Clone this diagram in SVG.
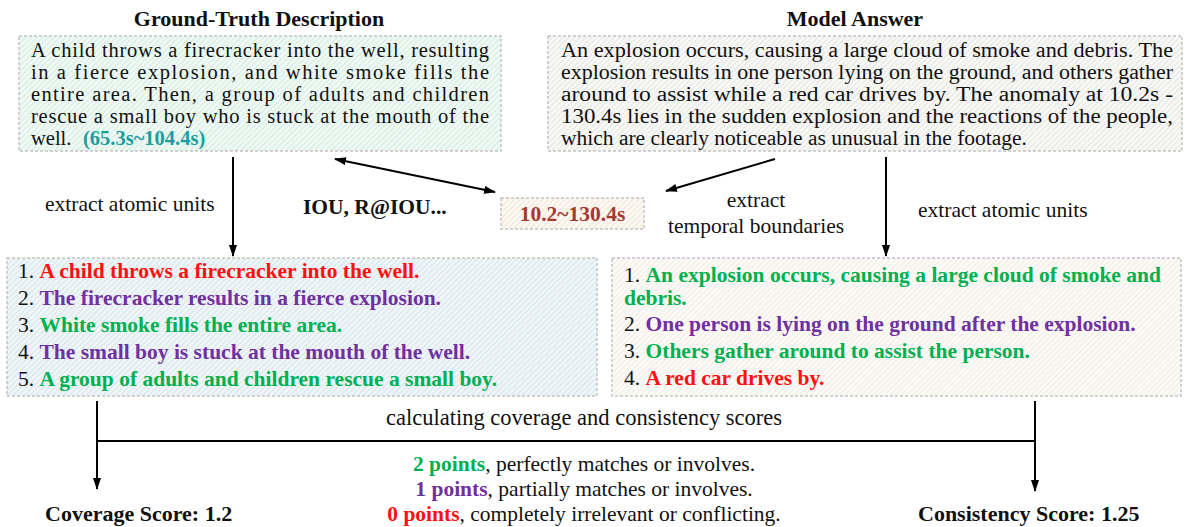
<svg xmlns="http://www.w3.org/2000/svg" width="1188" height="527" viewBox="0 0 1188 527">
  <style>
    text { font-family: "Liberation Serif", "Times New Roman", serif; fill: #111; }
    .title { font-size: 22px; font-weight: bold; }
    .body { font-size: 20.5px; }
    .lbl { font-size: 21.5px; }
    .b { font-weight: bold; }
    .item { font-size: 21.5px; }
    .red { fill: #ff1010; font-weight: bold; }
    .pur { fill: #7030a0; font-weight: bold; }
    .grn { fill: #00b050; font-weight: bold; }
    .teal { fill: #1b9e9e; font-weight: bold; }
    .brown { fill: #a33a32; font-weight: bold; }
    .box { stroke: #c4c4c4; stroke-width: 1.5; stroke-dasharray: 3 2; }
    .wire { stroke: #000; stroke-width: 2; fill: none; }
  </style>
  <defs>
    <pattern id="hatchMint" width="4" height="4" patternUnits="userSpaceOnUse" patternTransform="rotate(45)">
      <rect width="4" height="4" fill="#f2faf6"/>
      <rect width="1.3" height="4" fill="#d6ede3"/>
    </pattern>
    <pattern id="hatchGrey" width="4" height="4" patternUnits="userSpaceOnUse" patternTransform="rotate(45)">
      <rect width="4" height="4" fill="#f9f9f7"/>
      <rect width="1.3" height="4" fill="#e7e7e3"/>
    </pattern>
    <pattern id="hatchBlue" width="4" height="4" patternUnits="userSpaceOnUse" patternTransform="rotate(45)">
      <rect width="4" height="4" fill="#f1f6f8"/>
      <rect width="1.3" height="4" fill="#d9e7ed"/>
    </pattern>
    <pattern id="hatchCream" width="4" height="4" patternUnits="userSpaceOnUse" patternTransform="rotate(45)">
      <rect width="4" height="4" fill="#fcfbf8"/>
      <rect width="1.3" height="4" fill="#f1eee6"/>
    </pattern>
    <pattern id="hatchPeach" width="4" height="4" patternUnits="userSpaceOnUse" patternTransform="rotate(45)">
      <rect width="4" height="4" fill="#fdf9f4"/>
      <rect width="1.3" height="4" fill="#f3e8da"/>
    </pattern>
    <marker id="head" viewBox="0 0 12 8" refX="11" refY="4" markerWidth="12" markerHeight="8" markerUnits="userSpaceOnUse" orient="auto-start-reverse">
      <path d="M0,0 L12,4 L0,8 z" fill="#000"/>
    </marker>
  </defs>

  <!-- ground-truth description -->
  <g id="gt-description">
    <text class="title" x="259" y="26" text-anchor="middle">Ground-Truth Description</text>
    <rect class="box" x="19" y="36" width="482" height="115" fill="url(#hatchMint)"/>
    <text class="body" x="31" y="57" textLength="458" lengthAdjust="spacing">A child throws a firecracker into the well, resulting</text>
    <text class="body" x="31" y="79" textLength="458" lengthAdjust="spacing">in a fierce explosion, and white smoke fills the</text>
    <text class="body" x="31" y="101" textLength="458" lengthAdjust="spacing">entire area. Then, a group of adults and children</text>
    <text class="body" x="31" y="123" textLength="458" lengthAdjust="spacing">rescue a small boy who is stuck at the mouth of the</text>
    <text class="body" x="31" y="145">well. <tspan class="teal" x="83">(65.3s~104.4s)</tspan></text>
  </g>

  <!-- model answer -->
  <g id="model-answer">
    <text class="title" x="855" y="26" text-anchor="middle">Model Answer</text>
    <rect class="box" x="548" y="36" width="634" height="115" fill="url(#hatchGrey)"/>
    <text class="body" x="561" y="57" textLength="612" lengthAdjust="spacingAndGlyphs">An explosion occurs, causing a large cloud of smoke and debris. The</text>
    <text class="body" x="561" y="79" textLength="612" lengthAdjust="spacingAndGlyphs">explosion results in one person lying on the ground, and others gather</text>
    <text class="body" x="561" y="101" textLength="612" lengthAdjust="spacingAndGlyphs">around to assist while a red car drives by. The anomaly at 10.2s -</text>
    <text class="body" x="561" y="123" textLength="612" lengthAdjust="spacingAndGlyphs">130.4s lies in the sudden explosion and the reactions of the people,</text>
    <text class="body" x="561" y="145" textLength="466" lengthAdjust="spacingAndGlyphs">which are clearly noticeable as unusual in the footage.</text>
  </g>

  <!-- predicted interval -->
  <g id="interval">
    <rect class="box" x="501" y="198" width="143" height="31" fill="url(#hatchPeach)"/>
    <text class="item brown" x="572.5" y="221" text-anchor="middle">10.2~130.4s</text>
  </g>

  <!-- atomic units from the description -->
  <g id="gt-units">
    <rect class="box" x="7" y="258" width="590" height="138" fill="url(#hatchBlue)"/>
    <text class="item" x="18" y="278">1. <tspan class="red">A child throws a firecracker into the well.</tspan></text>
    <text class="item" x="18" y="305">2. <tspan class="pur">The firecracker results in a fierce explosion.</tspan></text>
    <text class="item" x="18" y="332">3. <tspan class="grn">White smoke fills the entire area.</tspan></text>
    <text class="item" x="18" y="359">4. <tspan class="pur">The small boy is stuck at the mouth of the well.</tspan></text>
    <text class="item" x="18" y="386">5. <tspan class="grn">A group of adults and children rescue a small boy.</tspan></text>
  </g>

  <!-- atomic units from the answer -->
  <g id="answer-units">
    <rect class="box" x="612" y="258" width="569" height="138" fill="url(#hatchCream)"/>
    <text class="item" x="624" y="282" textLength="537" lengthAdjust="spacing">1. <tspan class="grn">An explosion occurs, causing a large cloud of smoke and</tspan></text>
    <text class="item grn" x="624" y="305">debris.</text>
    <text class="item" x="624" y="331">2. <tspan class="pur">One person is lying on the ground after the explosion.</tspan></text>
    <text class="item" x="624" y="358">3. <tspan class="grn">Others gather around to assist the person.</tspan></text>
    <text class="item" x="624" y="385">4. <tspan class="red">A red car drives by.</tspan></text>
  </g>

  <!-- scores -->
  <g id="coverage-score">
    <text class="title" x="45" y="521">Coverage Score: 1.2</text>
  </g>
  <g id="consistency-score">
    <text class="title" x="918" y="521">Consistency Score: 1.25</text>
  </g>

  <!-- scoring legend -->
  <g id="legend">
    <text class="lbl" x="584" y="425" text-anchor="middle" style="font-size:22.5px">calculating coverage and consistency scores</text>
    <text class="lbl" x="584" y="471" text-anchor="middle"><tspan class="grn">2 points</tspan>, perfectly matches or involves.</text>
    <text class="lbl" x="584" y="496" text-anchor="middle"><tspan class="pur">1 points</tspan>, partially matches or involves.</text>
    <text class="lbl" x="584" y="521" text-anchor="middle"><tspan class="red">0 points</tspan>, completely irrelevant or conflicting.</text>
  </g>

  <!-- connectors -->
  <g id="connectors">
    <line class="wire" x1="233" y1="157" x2="233" y2="256" marker-end="url(#head)"/>
    <line class="wire" x1="886" y1="157" x2="886" y2="256" marker-end="url(#head)"/>
    <line class="wire" x1="335" y1="159" x2="495" y2="192" marker-start="url(#head)" marker-end="url(#head)"/>
    <line class="wire" x1="775" y1="159" x2="666" y2="191" marker-end="url(#head)"/>
    <text class="lbl" x="45" y="211">extract atomic units</text>
    <text class="lbl b" x="303" y="214">IOU, R@IOU...</text>
    <text class="lbl" x="756" y="207" text-anchor="middle">extract</text>
    <text class="lbl" x="756" y="233" text-anchor="middle">temporal boundaries</text>
    <text class="lbl" x="918" y="217">extract atomic units</text>
    <line class="wire" x1="97" y1="441" x2="1035" y2="441"/>
    <line class="wire" x1="97" y1="401" x2="97" y2="489" marker-end="url(#head)"/>
    <line class="wire" x1="1035" y1="401" x2="1035" y2="491" marker-end="url(#head)"/>
  </g>
</svg>
